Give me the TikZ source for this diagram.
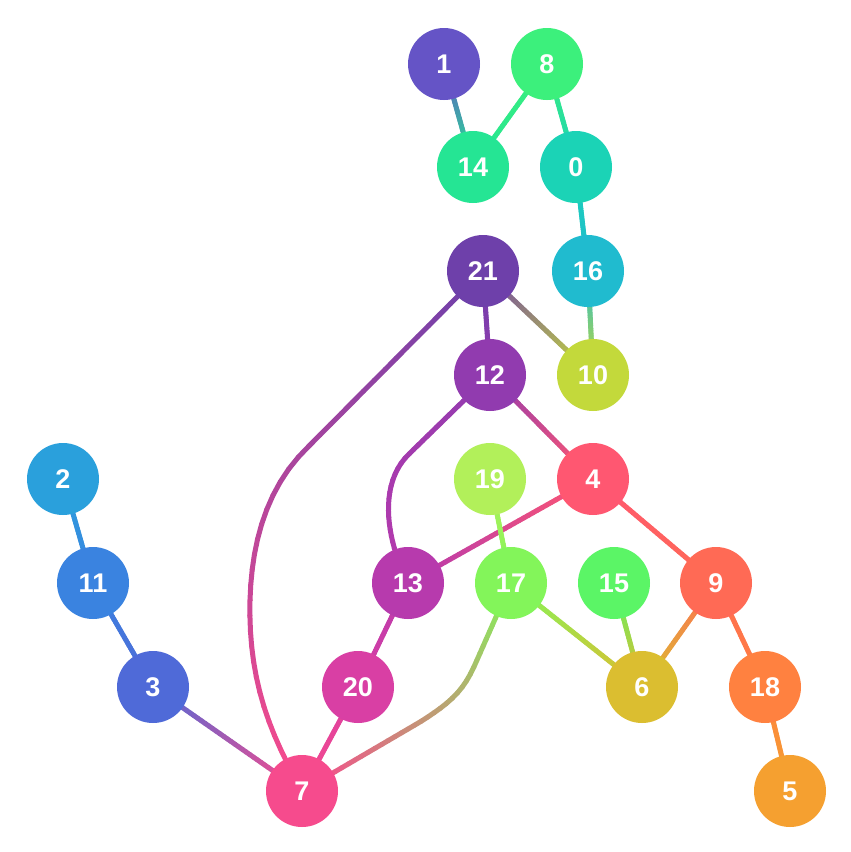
\documentclass[tikz,border=0pt]{standalone}
\usepackage{fontspec}
\setmainfont{Liberation Sans}
\usetikzlibrary{decorations.markings,backgrounds}
\definecolor{n0}{HTML}{1BD3B6}
\definecolor{n1}{HTML}{6554C6}
\definecolor{n2}{HTML}{2AA0DC}
\definecolor{n3}{HTML}{4F6AD8}
\definecolor{n4}{HTML}{FF5771}
\definecolor{n5}{HTML}{F5A030}
\definecolor{n6}{HTML}{DBBE30}
\definecolor{n7}{HTML}{F64B8D}
\definecolor{n8}{HTML}{3CF07C}
\definecolor{n9}{HTML}{FF6A55}
\definecolor{n10}{HTML}{C3D93B}
\definecolor{n11}{HTML}{3A83E0}
\definecolor{n12}{HTML}{913BAF}
\definecolor{n13}{HTML}{B73AAD}
\definecolor{n14}{HTML}{25E594}
\definecolor{n15}{HTML}{5BF566}
\definecolor{n16}{HTML}{20BBCF}
\definecolor{n17}{HTML}{83F55A}
\definecolor{n18}{HTML}{FF8140}
\definecolor{n19}{HTML}{B2F05A}
\definecolor{n20}{HTML}{D93FA4}
\definecolor{n21}{HTML}{6E40AA}
\tikzset{
  vtx/.style={circle,fill=#1,minimum size=72pt,inner sep=0pt,text=white,
    font=\fontsize{27}{27}\selectfont\bfseries},
  edgeseg/.style={line width=5pt,line cap=round}
}
\newcommand\gedge[3]{%
  \path[decorate,decoration={markings,mark=between positions 0 and 1 step 0.025 with {\coordinate (gp\pgfkeysvalueof{/pgf/decoration/mark info/sequence number});}}] #3;
  \foreach \i in {1,...,39}{%
    \pgfmathtruncatemacro\j{\i+1}%
    \pgfmathtruncatemacro\p{100*(\i-0.5)/39}%
    \draw[edgeseg,color=#2!\p!#1] (gp\i) -- (gp\j);}%
}
\begin{document}
\begin{tikzpicture}[x=1pt,y=-1pt]
\useasboundingbox (0,0) rectangle (851,852);
\node[vtx=n1] (v1) at (444,64) {1};
\node[vtx=n8] (v8) at (547,64) {8};
\node[vtx=n14] (v14) at (473,167) {14};
\node[vtx=n0] (v0) at (576,167) {0};
\node[vtx=n21] (v21) at (483,271) {21};
\node[vtx=n16] (v16) at (588,271) {16};
\node[vtx=n12] (v12) at (490,375) {12};
\node[vtx=n10] (v10) at (593,375) {10};
\node[vtx=n2] (v2) at (63,479) {2};
\node[vtx=n19] (v19) at (490,479) {19};
\node[vtx=n4] (v4) at (593,479) {4};
\node[vtx=n11] (v11) at (93,583) {11};
\node[vtx=n13] (v13) at (408,583) {13};
\node[vtx=n17] (v17) at (511,583) {17};
\node[vtx=n15] (v15) at (614,583) {15};
\node[vtx=n9] (v9) at (716,583) {9};
\node[vtx=n3] (v3) at (153,687) {3};
\node[vtx=n20] (v20) at (358,687) {20};
\node[vtx=n6] (v6) at (642,687) {6};
\node[vtx=n18] (v18) at (765,687) {18};
\node[vtx=n7] (v7) at (302,791) {7};
\node[vtx=n5] (v5) at (790,791) {5};
\begin{pgfonlayer}{background}
\fill[white] (0,0) rectangle (851,852);
\gedge{n1}{n14}{(v1.center) -- (v14.center)}
\gedge{n8}{n14}{(v8.center) -- (v14.center)}
\gedge{n8}{n0}{(v8.center) -- (v0.center)}
\gedge{n0}{n16}{(v0.center) -- (v16.center)}
\gedge{n16}{n10}{(v16.center) -- (v10.center)}
\gedge{n21}{n10}{(v21.center) -- (v10.center)}
\gedge{n21}{n12}{(v21.center) -- (v12.center)}
\gedge{n21}{n7}{(v21.center) -- (305,450) .. controls (270,485) and (248,540) .. (250,620) .. controls (252,700) and (280,750) .. (v7.center)}
\gedge{n12}{n13}{(v12.center) -- (408,455) .. controls (380,483) and (384,535) .. (v13.center)}
\gedge{n12}{n4}{(v12.center) -- (v4.center)}
\gedge{n4}{n13}{(v4.center) -- (v13.center)}
\gedge{n4}{n9}{(v4.center) -- (v9.center)}
\gedge{n19}{n17}{(v19.center) -- (v17.center)}
\gedge{n17}{n6}{(v17.center) -- (v6.center)}
\gedge{n17}{n7}{(v17.center) -- (477,660) .. controls (465,688) and (455,700) .. (420,722) -- (v7.center)}
\gedge{n15}{n6}{(v15.center) -- (v6.center)}
\gedge{n9}{n6}{(v9.center) -- (v6.center)}
\gedge{n9}{n18}{(v9.center) -- (v18.center)}
\gedge{n18}{n5}{(v18.center) -- (v5.center)}
\gedge{n2}{n11}{(v2.center) -- (v11.center)}
\gedge{n11}{n3}{(v11.center) -- (v3.center)}
\gedge{n3}{n7}{(v3.center) -- (v7.center)}
\gedge{n13}{n20}{(v13.center) -- (v20.center)}
\gedge{n20}{n7}{(v20.center) -- (v7.center)}
\end{pgfonlayer}
\end{tikzpicture}
\end{document}
